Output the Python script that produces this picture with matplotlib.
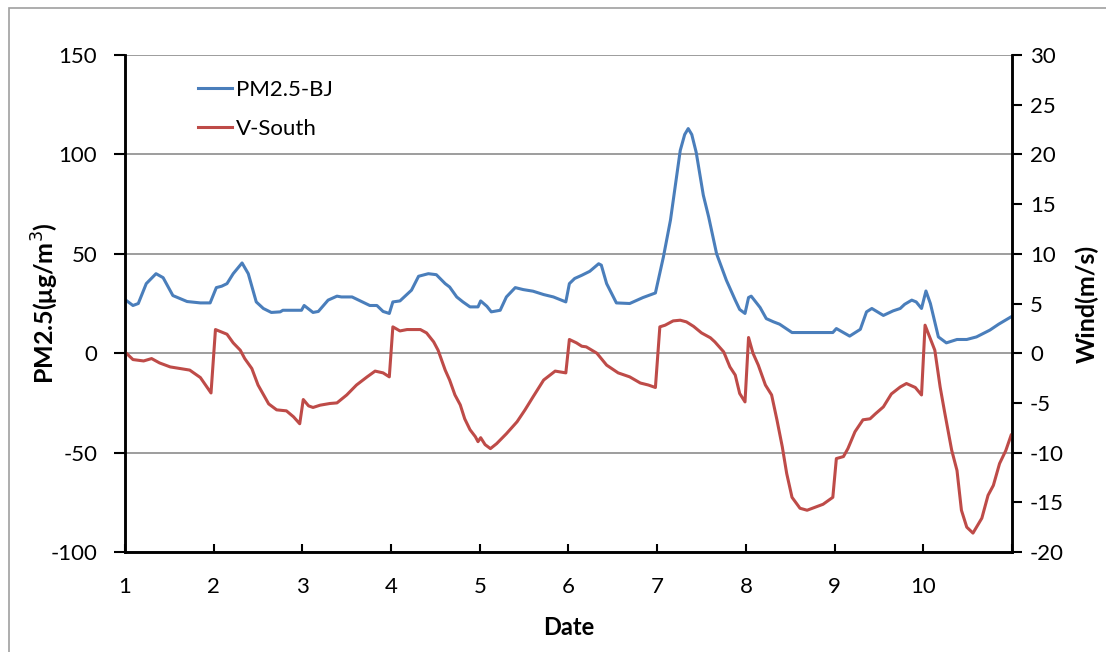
import matplotlib
matplotlib.use('Agg')
from matplotlib import pyplot as plt
from matplotlib.patches import Rectangle

plt.rcParams['font.family'] = ['Lato', 'DejaVu Sans']
plt.rcParams['axes.unicode_minus'] = False

# PM2.5 (left axis, ug/m3), x in days
pm_day = [1.00, 1.09, 1.15, 1.24, 1.35, 1.43, 1.54, 1.62, 1.70, 1.85, 1.96,
          2.03, 2.09, 2.15, 2.22, 2.32, 2.39, 2.48, 2.56, 2.65, 2.75, 2.78, 2.99,
          3.02, 3.12, 3.18, 3.29, 3.39, 3.44, 3.56, 3.76, 3.84, 3.91, 3.98,
          4.02, 4.10, 4.23, 4.31, 4.42, 4.51, 4.61, 4.66, 4.74, 4.81, 4.89, 4.98,
          5.01, 5.08, 5.13, 5.23, 5.30, 5.40, 5.49, 5.60, 5.72, 5.83, 5.97,
          6.01, 6.07, 6.15, 6.24, 6.34, 6.37, 6.43, 6.54, 6.69, 6.84, 6.98,
          7.07, 7.15, 7.26, 7.31, 7.35, 7.39, 7.44, 7.52, 7.58, 7.67, 7.78, 7.88,
          7.93, 7.99, 8.03, 8.06, 8.16, 8.23, 8.31, 8.38, 8.52, 8.98,
          9.02, 9.17, 9.29, 9.36, 9.42, 9.55, 9.66, 9.74, 9.79, 9.87, 9.92, 9.98,
          10.03, 10.08, 10.17, 10.26, 10.38, 10.49, 10.60, 10.75, 10.85, 10.99]
pm = [27, 24, 25, 35, 40, 38, 29, 27.5, 26, 25.3, 25.3,
      33, 33.7, 35, 40, 45.4, 40, 25.8, 22.5, 20.5, 20.8, 21.6, 21.6,
      24, 20.5, 21, 26.7, 28.7, 28.3, 28.3, 24, 24, 21, 20,
      25.8, 26.3, 31.7, 38.7, 40, 39.5, 35, 33.3, 28.3, 25.8, 23.3, 23.3,
      26.3, 23.6, 20.8, 21.6, 28.3, 33, 32, 31.2, 29.5, 28.3, 25.8,
      35, 37.6, 39.2, 41.2, 45, 44.3, 35, 25.3, 25, 28, 30.3,
      48.4, 67, 102, 110, 113, 110, 101, 79.5, 68.6, 50, 36.7, 26.7,
      22, 20, 28, 28.7, 23, 17.4, 15.8, 14.6, 10.4, 10.4,
      12.4, 8.6, 12, 20.8, 22.5, 19, 21.3, 22.5, 24.6, 26.7, 25.8, 22.5,
      31.3, 25, 8.2, 5.2, 6.9, 6.9, 8.2, 11.6, 14.6, 18.3]

# southerly wind component (right axis, m/s)
wd_day = [1.00, 1.09, 1.21, 1.30, 1.39, 1.51, 1.62, 1.73, 1.85, 1.97,
          2.02, 2.15, 2.22, 2.30, 2.35, 2.43, 2.50, 2.62, 2.71, 2.82, 2.90, 2.97,
          3.01, 3.07, 3.12, 3.20, 3.31, 3.39, 3.50, 3.61, 3.73, 3.82, 3.91, 3.98,
          4.02, 4.10, 4.18, 4.33, 4.40, 4.48, 4.53, 4.61, 4.66, 4.72, 4.78, 4.83,
          4.89, 4.95, 4.98, 5.01, 5.06, 5.12, 5.19, 5.30, 5.42, 5.51, 5.60, 5.72,
          5.85, 5.97, 6.01, 6.09, 6.15, 6.20, 6.32, 6.43, 6.56, 6.69, 6.81, 6.90,
          6.98, 7.03, 7.09, 7.18, 7.26, 7.33, 7.41, 7.50, 7.60, 7.65, 7.75, 7.82,
          7.88, 7.93, 7.99, 8.03, 8.08, 8.14, 8.22, 8.29, 8.35, 8.41, 8.46, 8.52,
          8.61, 8.69, 8.78, 8.87, 8.98, 9.02, 9.10, 9.15, 9.23, 9.32, 9.40, 9.46,
          9.55, 9.64, 9.74, 9.81, 9.91, 9.98, 10.02, 10.13, 10.19, 10.24, 10.32,
          10.38, 10.43, 10.49, 10.56, 10.66, 10.73, 10.79, 10.86, 10.93, 10.99]
wd = [0.13, -0.64, -0.78, -0.54, -0.98, -1.38, -1.54, -1.7, -2.45, -4.0,
      2.38, 1.91, 1.04, 0.3, -0.54, -1.54, -3.2, -5.1, -5.7, -5.8, -6.4, -7.1,
      -4.66, -5.3, -5.46, -5.23, -5.06, -5.0, -4.2, -3.2, -2.38, -1.8, -1.98, -2.38,
      2.65, 2.24, 2.38, 2.38, 2.04, 1.14, 0.3, -1.7, -2.7, -4.2, -5.2, -6.6,
      -7.7, -8.4, -8.9, -8.5, -9.2, -9.6, -9.1, -8.1, -6.9, -5.7, -4.4, -2.7,
      -1.8, -1.98, 1.38, 1.04, 0.7, 0.64, 0.0, -1.2, -1.98, -2.38, -3.0, -3.2,
      -3.45, 2.65, 2.82, 3.25, 3.32, 3.15, 2.7, 2.04, 1.55, 1.14, 0.13, -1.38,
      -2.2, -4.05, -4.9, 1.58, 0.0, -1.2, -3.2, -4.2, -6.7, -9.4, -12.1, -14.5,
      -15.6, -15.8, -15.5, -15.2, -14.5, -10.6, -10.4, -9.6, -7.9, -6.7, -6.6, -6.1,
      -5.4, -4.1, -3.4, -3.05, -3.45, -4.2, 2.82, 0.3, -3.4, -5.9, -9.75,
      -11.8, -15.8, -17.5, -18.1, -16.6, -14.3, -13.3, -11.1, -9.8, -8.25]

day_ticks = [1, 2, 3, 4, 5, 6, 7, 8, 9, 10, 11]
day_labels = ['1', '2', '3', '4', '5', '6', '7', '8', '9', '10', '']

blue = '#4A7EBB'
red = '#BE4B48'

fig = plt.figure(figsize=(11.06, 6.52), dpi=100)
fig.patches.append(Rectangle((9 / 1106, -0.1), 1.2, 1.1 - 8 / 652, transform=fig.transFigure,
                             fill=False, edgecolor='#A0A0A0', linewidth=1.2))
ax = fig.add_axes([0.113, 0.1534, 0.802, 0.7622])
ax2 = ax.twinx()

l1, = ax.plot(pm_day, pm, color=blue, lw=2.2, label='PM2.5-BJ')
l2, = ax2.plot(wd_day, wd, color=red, lw=2.2, label='V-South')

ax.set_xlim(1, 11)
ax.set_ylim(-100, 150)
ax.set_yticks([-100, -50, 0, 50, 100, 150])
ax2.set_ylim(-20, 30)
ax2.set_yticks(range(-20, 31, 5))
ax.set_xticks(day_ticks)
ax.set_xticklabels(day_labels)

ax.grid(axis='y', color='#8C8C8C', lw=1.2)
ax.set_axisbelow(True)

for a in (ax, ax2):
    a.spines['top'].set_visible(False)
    for s in ('left', 'right', 'bottom'):
        a.spines[s].set_linewidth(1.8)
        a.spines[s].set_color('black')

ax.tick_params(axis='x', direction='in', length=6, width=1.5, labelsize=16, pad=18)
ax.tick_params(axis='y', direction='out', length=8, width=1.5, labelsize=16, pad=12)
ax2.tick_params(axis='y', direction='out', length=7, width=1.5, labelsize=16, pad=6)

ax.set_xlabel('Date', fontsize=17, fontweight='bold', labelpad=14)
ax.set_ylabel('PM2.5(μg/m$^3$)', fontsize=18, fontweight='bold', labelpad=-8)
ax2.set_ylabel('Wind(m/s)', fontsize=18, fontweight='bold', labelpad=8)

ax2.legend(handles=[l1, l2], loc='upper left', bbox_to_anchor=(0.06, 0.99),
           frameon=False, fontsize=16, handlelength=1.5, handletextpad=0.2,
           labelspacing=0.85)

fig.savefig('out.png', dpi=100)
